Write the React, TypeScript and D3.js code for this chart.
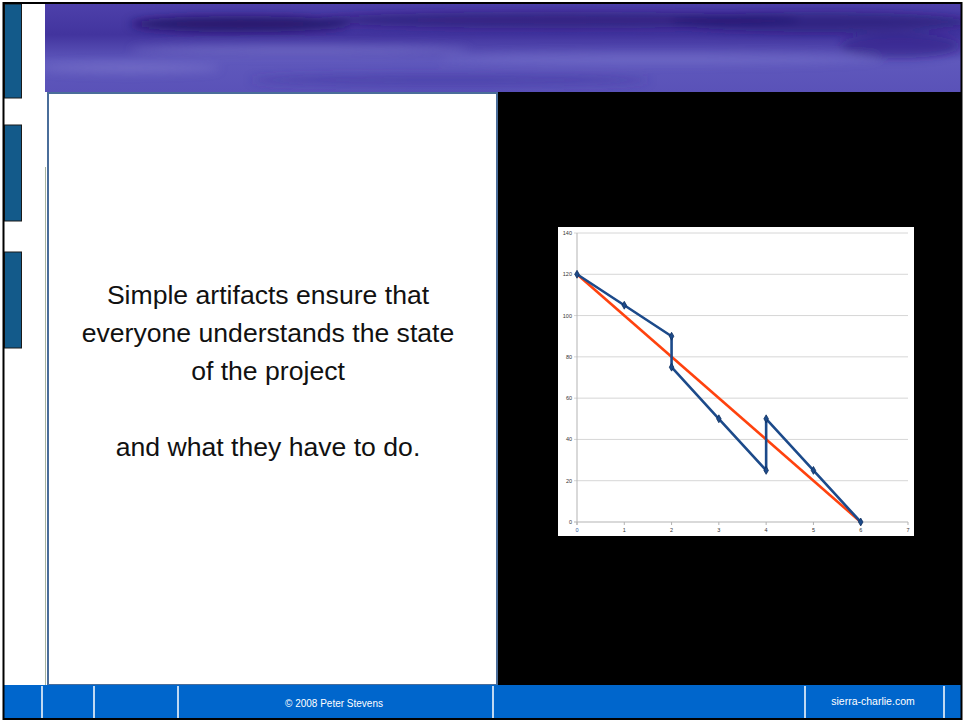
import React from 'react';
import * as d3 from 'd3';

// burndown (blue) and ideal line (orange)
const burnDays = [0, 1, 2, 2, 3, 4, 4, 5, 6];
const burnRemaining = [120, 105, 90, 75, 50, 25, 50, 25, 0];
const idealDays = [0, 6];
const idealRemaining = [120, 0];
const xTicks = [0, 1, 2, 3, 4, 5, 6, 7];
const yTicks = [0, 20, 40, 60, 80, 100, 120, 140];

const slideLines = [
  'Simple artifacts ensure that',
  'everyone understands the state',
  'of the project',
  '',
  'and what they have to do.',
];
const footerDividers = [42, 94, 178, 493, 805, 944];
const sideTabs = [[4, 98], [125, 221], [252, 348]];

const W = 965;
const H = 723;

const Chart = () => {
  const x = d3.scaleLinear().domain([0, 7]).range([577, 908]);
  const y = d3.scaleLinear().domain([0, 140]).range([522, 233]);

  const burn = burnDays.map((d, i) => [d, burnRemaining[i]] as [number, number]);
  const ideal = idealDays.map((d, i) => [d, idealRemaining[i]] as [number, number]);
  const line = d3.line<[number, number]>().x(d => x(d[0])).y(d => y(d[1]));
  const diamond = d3.symbol().type(d3.symbolDiamond).size(18)();

  return (
    <g>
      <rect x={558} y={227} width={356} height={309} fill="#fff" />
      {yTicks.map(t => (
        <g key={'y' + t}>
          <line x1={x(0) - 3} x2={x(7)} y1={y(t)} y2={y(t)} stroke={t === 0 ? '#b3b3b3' : '#d6d6d6'} strokeWidth={1} />
          <text x={x(0) - 5} y={y(t) + 2} fontSize={5.5} textAnchor="end" fill="#333" fontFamily="Liberation Sans, Arial, sans-serif">{t}</text>
        </g>
      ))}
      <line x1={x(0)} x2={x(0)} y1={y(140)} y2={y(0) + 3} stroke="#b3b3b3" />
      {xTicks.map(t => (
        <g key={'x' + t}>
          <line x1={x(t)} x2={x(t)} y1={y(0)} y2={y(0) + 3} stroke="#b3b3b3" />
          <text x={x(t)} y={y(0) + 10} fontSize={5.5} textAnchor="middle" fill={t === 0 ? '#2a5aa0' : '#333'} fontFamily="Liberation Sans, Arial, sans-serif">{t}</text>
        </g>
      ))}
      <path d={line(ideal) || ''} fill="none" stroke="#ff420e" strokeWidth={2.6} />
      <path d={line(burn) || ''} fill="none" stroke="#1c4a8a" strokeWidth={2.6} strokeLinejoin="round" />
      {burn.map((d, i) => (
        <path key={'m' + i} d={diamond || ''} transform={`translate(${x(d[0])},${y(d[1])})`} fill="#1c4a8a" stroke="#0f3060" strokeWidth={0.8} />
      ))}
    </g>
  );
};

export default function App() {
  return (
    <svg width={W} height={H} style={{ position: 'absolute', left: 0, top: 0 }} fontFamily="Liberation Sans, Arial, sans-serif">
      <defs>
        <linearGradient id="banner" x1="0" y1="0" x2="0" y2="1">
          <stop offset="0" stopColor="#4d40aa" />
          <stop offset="0.35" stopColor="#42349e" />
          <stop offset="0.65" stopColor="#5f58bc" />
          <stop offset="1" stopColor="#5a52b8" />
        </linearGradient>
        <filter id="blur" x="-20%" y="-50%" width="140%" height="200%">
          <feGaussianBlur stdDeviation="5" />
        </filter>
        <clipPath id="bannerClip">
          <rect x={45} y={4} width={917} height={88} />
        </clipPath>
      </defs>
      <rect width={W} height={H} fill="#fff" />
      {/* banner */}
      <g clipPath="url(#bannerClip)">
        <rect x={45} y={4} width={917} height={88} fill="url(#banner)" />
        <g filter="url(#blur)">
          <ellipse cx={240} cy={24} rx={110} ry={8} fill="#1e1060" opacity={0.8} />
          <ellipse cx={560} cy={20} rx={240} ry={8} fill="#26166c" opacity={0.6} />
          <ellipse cx={820} cy={22} rx={150} ry={10} fill="#20126a" opacity={0.55} />
          <ellipse cx={300} cy={50} rx={170} ry={5} fill="#8884d4" opacity={0.45} />
          <ellipse cx={660} cy={58} rx={220} ry={6} fill="#8884d4" opacity={0.35} />
          <ellipse cx={130} cy={68} rx={90} ry={5} fill="#8f8ad8" opacity={0.4} />
          <ellipse cx={900} cy={46} rx={60} ry={12} fill="#2a1a80" opacity={0.5} />
          <ellipse cx={450} cy={80} rx={200} ry={5} fill="#3e329e" opacity={0.5} />
        </g>
      </g>
      {/* side tabs */}
      {sideTabs.map(([a, b], i) => (
        <rect key={'t' + i} x={4.5} y={a} width={17} height={b - a} fill="#135a8a" stroke="#1a1a1a" strokeWidth={1} />
      ))}
      <line x1={45.5} x2={45.5} y1={167} y2={685} stroke="#a8b4a0" strokeWidth={1} />
      {/* text panel */}
      <rect x={48} y={93} width={449} height={592} fill="#fff" stroke="#4a6d9a" strokeWidth={2} />
      {slideLines.map((t, i) => (
        <text key={'l' + i} x={268} y={304 + i * 38} fontSize={26.6} textAnchor="middle" fill="#111">{t}</text>
      ))}
      {/* chart panel */}
      <rect x={498} y={92} width={464} height={593} fill="#000" />
      <Chart />
      {/* footer */}
      <rect x={4} y={685} width={958} height={34} fill="#0066cc" />
      {footerDividers.map(d => (
        <line key={'f' + d} x1={d} x2={d} y1={686} y2={719} stroke="#fff" strokeWidth={1.5} />
      ))}
      <text x={334} y={707} fontSize={10} textAnchor="middle" fill="#fff">© 2008 Peter Stevens</text>
      <text x={873} y={705} fontSize={10.5} textAnchor="middle" fill="#fff">sierra-charlie.com</text>
      <rect x={3.5} y={3} width={958} height={716} fill="none" stroke="#000" strokeWidth={2} />
    </svg>
  );
}
